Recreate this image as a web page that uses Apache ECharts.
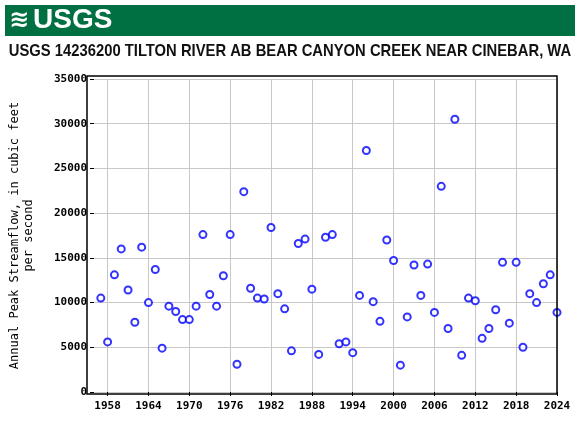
<!DOCTYPE html>
<html>
<head>
<meta charset="utf-8">
<script src="https://cdn.jsdelivr.net/npm/echarts@6/dist/echarts.min.js"></script>
<style>html,body{margin:0;padding:0;background:#fff}#main{width:580px;height:430px}</style>
</head>
<body>
<div id="main"></div>
<script>
// annual peak streamflow, cfs
var years = [1957, 1958, 1959, 1960, 1961, 1962, 1963, 1964, 1965, 1966, 1967, 1968,
	1969, 1970, 1971, 1972, 1973, 1974, 1975, 1976, 1977, 1978, 1979, 1980, 1981,
	1982, 1983, 1984, 1985, 1986, 1987, 1988, 1989, 1990, 1991, 1992, 1993, 1994,
	1995, 1996, 1997, 1998, 1999, 2000, 2001, 2002, 2003, 2004, 2005, 2006, 2007,
	2008, 2009, 2010, 2011, 2012, 2013, 2014, 2015, 2016, 2017, 2018, 2019, 2020,
	2021, 2022, 2023, 2024];
var peaks = [10500, 5600, 13100, 16000, 11400, 7800, 16200, 10000, 13700, 4900, 9600, 9000,
	8100, 8100, 9600, 17600, 10900, 9600, 13000, 17600, 3100, 22400, 11600, 10500, 10400,
	18400, 11000, 9300, 4600, 16600, 17100, 11500, 4200, 17300, 17600, 5400, 5600, 4400,
	10800, 27000, 10100, 7900, 17000, 14700, 3000, 8400, 14200, 10800, 14300, 8900, 23000,
	7100, 30500, 4100, 10500, 10200, 6000, 7100, 9200, 14500, 7700, 14500, 5000, 11000,
	10000, 12100, 13100, 8900];
var yearTicks = [1958, 1964, 1970, 1976, 1982, 1988, 1994, 2000, 2006, 2012, 2018, 2024];

var chart = echarts.init(document.getElementById('main'));
var mono = 'DejaVu Sans Mono';
var pts = [];
for (var i = 0; i < years.length; i++) pts.push([years[i], peaks[i]]);
var vlines = yearTicks.map(function (y) { return { xAxis : y }; });

var option = {
	animation : false,
	graphic : [
		{ type : 'rect', shape : { x : 5, y : 5, width : 570, height : 31 }, style : { fill : '#006f41' } },
		{ type : 'text', left : 33, top : 6, style : { text : 'USGS', fill : '#fff', font : 'bold 28px Liberation Sans' } },
		{ type : 'text', left : 9, top : 9, style : { text : '≋', fill : '#fff', font : 'bold 24px DejaVu Sans' } },
		{ type : 'text', x : 290, y : 43, scaleX : 0.87, originX : 0,
			style : { text : 'USGS 14236200 TILTON RIVER AB BEAR CANYON CREEK NEAR CINEBAR, WA', align : 'center',
				fill : '#111', font : 'bold 17px Liberation Sans' } },
		{ type : 'rect', shape : { x : 87, y : 76, width : 470, height : 318 }, style : { fill : 'none', stroke : '#000', lineWidth : 1.5 }, z : 10 }
	],
	grid : { left : 87, right : 23, top : 79, bottom : 38 },
	xAxis : {
		type : 'value', min : 1956, max : 2024,
		axisLine : { show : false },
		axisTick : { customValues : yearTicks, length : 4, lineStyle : { color : '#000' } },
		axisLabel : { customValues : yearTicks, formatter : function (v) { return String(v); }, fontFamily : mono, fontWeight : 'bold', fontSize : 11, color : '#000', margin : 9 },
		splitLine : { show : false }
	},
	yAxis : {
		type : 'value', min : 0, max : 35000, interval : 5000,
		name : 'Annual Peak Streamflow, in cubic feet\nper second',
		nameLocation : 'middle', nameGap : 58,
		nameTextStyle : { fontFamily : mono, fontSize : 12, color : '#000', lineHeight : 14 },
		axisLine : { show : false },
		axisTick : { show : true, length : 4, lineStyle : { color : '#000' } },
		axisLabel : { formatter : function (v) { return String(v); }, fontFamily : mono, fontWeight : 'bold', fontSize : 11, color : '#000', margin : 7 },
		splitLine : { lineStyle : { color : '#c8c8c8', width : 1 } }
	},
	series : [ {
		type : 'scatter',
		data : pts,
		symbol : 'emptyCircle',
		symbolSize : 7,
		z : 5,
		itemStyle : { color : '#0000ff', borderColor : '#0000ff', borderWidth : 1.3 },
		markLine : {
			silent : true, symbol : 'none', z : 1,
			label : { show : false },
			lineStyle : { color : '#c8c8c8', width : 1, type : 'solid' },
			data : vlines
		}
	} ]
};
chart.setOption(option);
</script>
</body>
</html>
